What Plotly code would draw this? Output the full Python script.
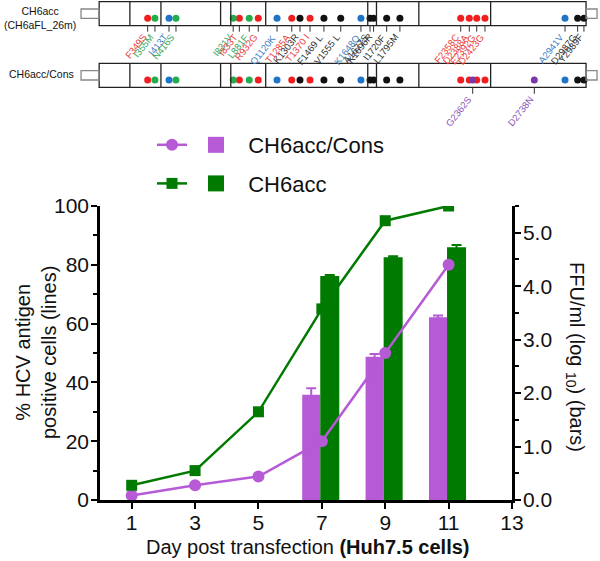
import plotly.graph_objects as go

# ---------------- main chart data ----------------
days = [1, 3, 5, 7, 9, 11]
pct_cons = [1.5, 5, 8, 20, 50, 80]          # % HCV antigen positive cells, CH6acc/Cons
pct_acc = [5, 10, 30, 65, 95, 100]          # % HCV antigen positive cells, CH6acc
bar_days = [7, 9, 11]
ffu_cons = [1.97, 2.68, 3.42]               # FFU/ml (log10), CH6acc/Cons
ffu_cons_err = [0.12, 0.05, 0.03]
ffu_acc = [4.19, 4.54, 4.73]                # FFU/ml (log10), CH6acc
ffu_acc_err = [0.02, 0.02, 0.04]
x_ticks = [1, 3, 5, 7, 9, 11, 13]
series_names = ["CH6acc/Cons", "CH6acc"]

# ---------------- genome diagram data ----------------
region_bounds = [1, 191, 383, 752, 815, 1031, 1662, 1716, 1978, 2422, 3012]
utr5 = [-111, 0]
utr3 = [3012, 3080]
mut_labels = ["F349S", "I355M", "I413T", "N416S", "I831V", "I833T", "L881F", "R932G",
              "Q1120K", "T1285A", "K1303R", "T1370 I", "F1469 L", "V1555 L", "K1648Q",
              "A1677S", "K1696R", "I1720F", "L1795M", "F2358C", "D2388A", "E2392G",
              "D2423G", "A2941V", "D2987G", "Y2989F"]
mut_pos = [301, 346, 433, 476, 830, 868, 929, 985, 1101, 1192, 1243, 1305, 1391, 1495,
           1620, 1676, 1698, 1779, 1861, 2237, 2290, 2336, 2387, 2882, 2960, 2999]
mut_kind = ["r", "g", "b", "g", "g", "r", "g", "r", "b", "r", "k", "r", "k", "k", "b",
            "k", "k", "k", "k", "r", "r", "r", "r", "b", "k", "k"]
cons_labels = ["G2362S", "D2738N"]
cons_pos = [2311, 2692]
row_names = ["CH6acc<br>(CH6aFL_26m)", "CH6acc/Cons"]

PURPLE = "#b65ad6"
GREEN = "#007a00"
dot_col = {"r": "#f01e1e", "g": "#23ad4c", "b": "#1f74c8", "k": "#111111", "p": "#7a3aa6"}
lab_col = {"r": "#e8403c", "g": "#3aa85c", "b": "#3d7fc4", "k": "#333333", "p": "#8a55b5"}
FONT = "Arial, Liberation Sans, sans-serif"
W, H = 600, 561

fig = go.Figure()

fig.add_trace(go.Bar(x=bar_days, y=ffu_cons, width=0.57, offset=-0.62,
                     marker=dict(color=PURPLE, line=dict(width=0)),
                     error_y=dict(type="data", array=ffu_cons_err, color=PURPLE, thickness=2, width=5),
                     xaxis="x", yaxis="y", showlegend=False))
fig.add_trace(go.Bar(x=bar_days, y=ffu_acc, width=0.6, offset=-0.05,
                     marker=dict(color=GREEN, line=dict(width=0)),
                     error_y=dict(type="data", array=ffu_acc_err, color=GREEN, thickness=2, width=5),
                     xaxis="x", yaxis="y", showlegend=False))
fig.add_trace(go.Scatter(x=days, y=pct_cons, mode="lines+markers", xaxis="x", yaxis="y2",
                         line=dict(color=PURPLE, width=2.5),
                         marker=dict(symbol="circle", size=12, color=PURPLE),
                         name="\u00a0", legend="legend", legendgroup="a"))
fig.add_trace(go.Scatter(x=days, y=pct_acc, mode="lines+markers", xaxis="x", yaxis="y2",
                         line=dict(color=GREEN, width=2.5),
                         marker=dict(symbol="square", size=11, color=GREEN),
                         name="\u00a0", legend="legend", legendgroup="b"))
for nm, c, g in zip(series_names, [PURPLE, GREEN], ["c", "d"]):
    fig.add_trace(go.Scatter(x=[None], y=[None], mode="markers", xaxis="x", yaxis="y2",
                             marker=dict(symbol="square", size=18, color=c),
                             name="\u00a0\u00a0" + nm, legend="legend2", legendgroup=g))

# ---------------- genome diagram ----------------
rows = [dict(y0=1.7, y1=25.7, dot=18.3), dict(y0=63.3, y1=87.3, dot=80.0)]
shapes = []
for r in rows:
    yc = (r["y0"] + r["y1"]) / 2
    shapes.append(dict(type="rect", xref="x3", yref="y3", x0=region_bounds[0], x1=region_bounds[-1],
                       y0=r["y0"], y1=r["y1"], line=dict(color="#222", width=1.3)))
    for b in region_bounds[1:-1]:
        shapes.append(dict(type="line", xref="x3", yref="y3", x0=b, x1=b, y0=r["y0"], y1=r["y1"],
                           line=dict(color="#222", width=1.3)))
    for u in (utr5, utr3):
        shapes.append(dict(type="rect", xref="x3", yref="y3", x0=u[0], x1=u[1], y0=yc - 4.7, y1=yc + 4.7,
                           line=dict(color="#888", width=1.3)))

annotations = []
for lab, p, k in zip(mut_labels, mut_pos, mut_kind):
    shapes.append(dict(type="line", xref="x3", yref="y3", x0=p, x1=p, y0=rows[0]["y1"], y1=rows[0]["y1"] + 6,
                       line=dict(color="#333", width=1)))
    annotations.append(dict(xref="x3", yref="y3", x=p + 14, y=rows[0]["y1"] + 5, text=lab, showarrow=False,
                            textangle=-52, xanchor="right", yanchor="top", borderpad=0,
                            font=dict(family=FONT, size=9.5, color=lab_col[k])))
for lab, p in zip(cons_labels, cons_pos):
    shapes.append(dict(type="line", xref="x3", yref="y3", x0=p, x1=p, y0=rows[1]["y1"], y1=rows[1]["y1"] + 6.5,
                       line=dict(color="#333", width=1)))
    annotations.append(dict(xref="x3", yref="y3", x=p + 14, y=rows[1]["y1"] + 5.5, text=lab, showarrow=False,
                            textangle=-52, xanchor="right", yanchor="top", borderpad=0,
                            font=dict(family=FONT, size=9.5, color=lab_col["p"])))

for r in rows:
    for k in ["r", "g", "b", "k"]:
        xs = [p for p, kk in zip(mut_pos, mut_kind) if kk == k]
        fig.add_trace(go.Scatter(x=xs, y=[r["dot"]] * len(xs), mode="markers", xaxis="x3", yaxis="y3",
                                 marker=dict(size=7, color=dot_col[k]), showlegend=False, hoverinfo="skip"))
fig.add_trace(go.Scatter(x=cons_pos, y=[rows[1]["dot"]] * len(cons_pos), mode="markers", xaxis="x3", yaxis="y3",
                         marker=dict(size=7, color=dot_col["p"]), showlegend=False, hoverinfo="skip"))


def px(x):
    return x / W


def py(y):
    return 1 - y / H


def note(x, y, text, size, angle=0, color="#111"):
    annotations.append(dict(xref="paper", yref="paper", x=px(x), y=py(y), text=text, showarrow=False,
                            xanchor="center", yanchor="middle", textangle=angle, align="center",
                            font=dict(family=FONT, size=size, color=color)))


note(40, 18.5, row_names[0], 10.5)
note(41, 74, row_names[1], 10.5)
note(36, 353, "% HCV antigen<br>positive cells (lines)", 20, angle=-90)
note(576, 357, "FFU/ml (log <sub>10</sub>) (bars)", 20, angle=90)
note(307, 547, "Day post transfection <b>(Huh7.5 cells)</b>", 20)

ydom = [py(500), py(206)]
axis_common = dict(showline=True, linecolor="#000", linewidth=2.5, ticks="outside", tickcolor="#000",
                   tickwidth=2, ticklen=6, showgrid=False, zeroline=False, automargin=False,
                   tickfont=dict(family=FONT, size=21, color="#111"))

fig.update_layout(
    width=W, height=H, margin=dict(l=0, r=0, t=0, b=0, autoexpand=False),
    paper_bgcolor="white", plot_bgcolor="rgba(0,0,0,0)",
    barmode="overlay",
    xaxis=dict(domain=[px(100), px(512)], range=[0, 13], tickvals=x_ticks, anchor="y",
               ticklabelstandoff=-4, **axis_common),
    yaxis=dict(domain=ydom, range=[0, 5.5], side="right", anchor="x", tickvals=[0, 1, 2, 3, 4, 5],
               tickformat=".1f", ticklabelstandoff=-2,
               minor=dict(dtick=0.5, ticks="outside", ticklen=4, tickwidth=2, tickcolor="#000"),
               **axis_common),
    yaxis2=dict(domain=ydom, range=[0, 100], side="left", overlaying="y", anchor="x", dtick=20,
                ticklabelstandoff=-2,
                minor=dict(dtick=10, ticks="outside", ticklen=4, tickwidth=2, tickcolor="#000"),
                **axis_common),
    xaxis3=dict(domain=[0, 1], range=[-612.2, 3098.3], anchor="y3", visible=False, automargin=False),
    yaxis3=dict(domain=[py(125), 1], range=[125, 0], anchor="x3", visible=False, automargin=False),
    legend=dict(x=px(152), y=py(124), xanchor="left", yanchor="top", bgcolor="rgba(0,0,0,0)",
                font=dict(family=FONT, size=22, color="#111"), tracegroupgap=7, traceorder="grouped"),
    legend2=dict(x=px(196), y=py(124), xanchor="left", yanchor="top", bgcolor="rgba(0,0,0,0)",
                 font=dict(family=FONT, size=22, color="#111"), tracegroupgap=7, traceorder="grouped"),
    shapes=shapes, annotations=annotations,
)

fig.write_html("out.html", config={"displayModeBar": False},
               post_script="document.body.style.margin='0';")
